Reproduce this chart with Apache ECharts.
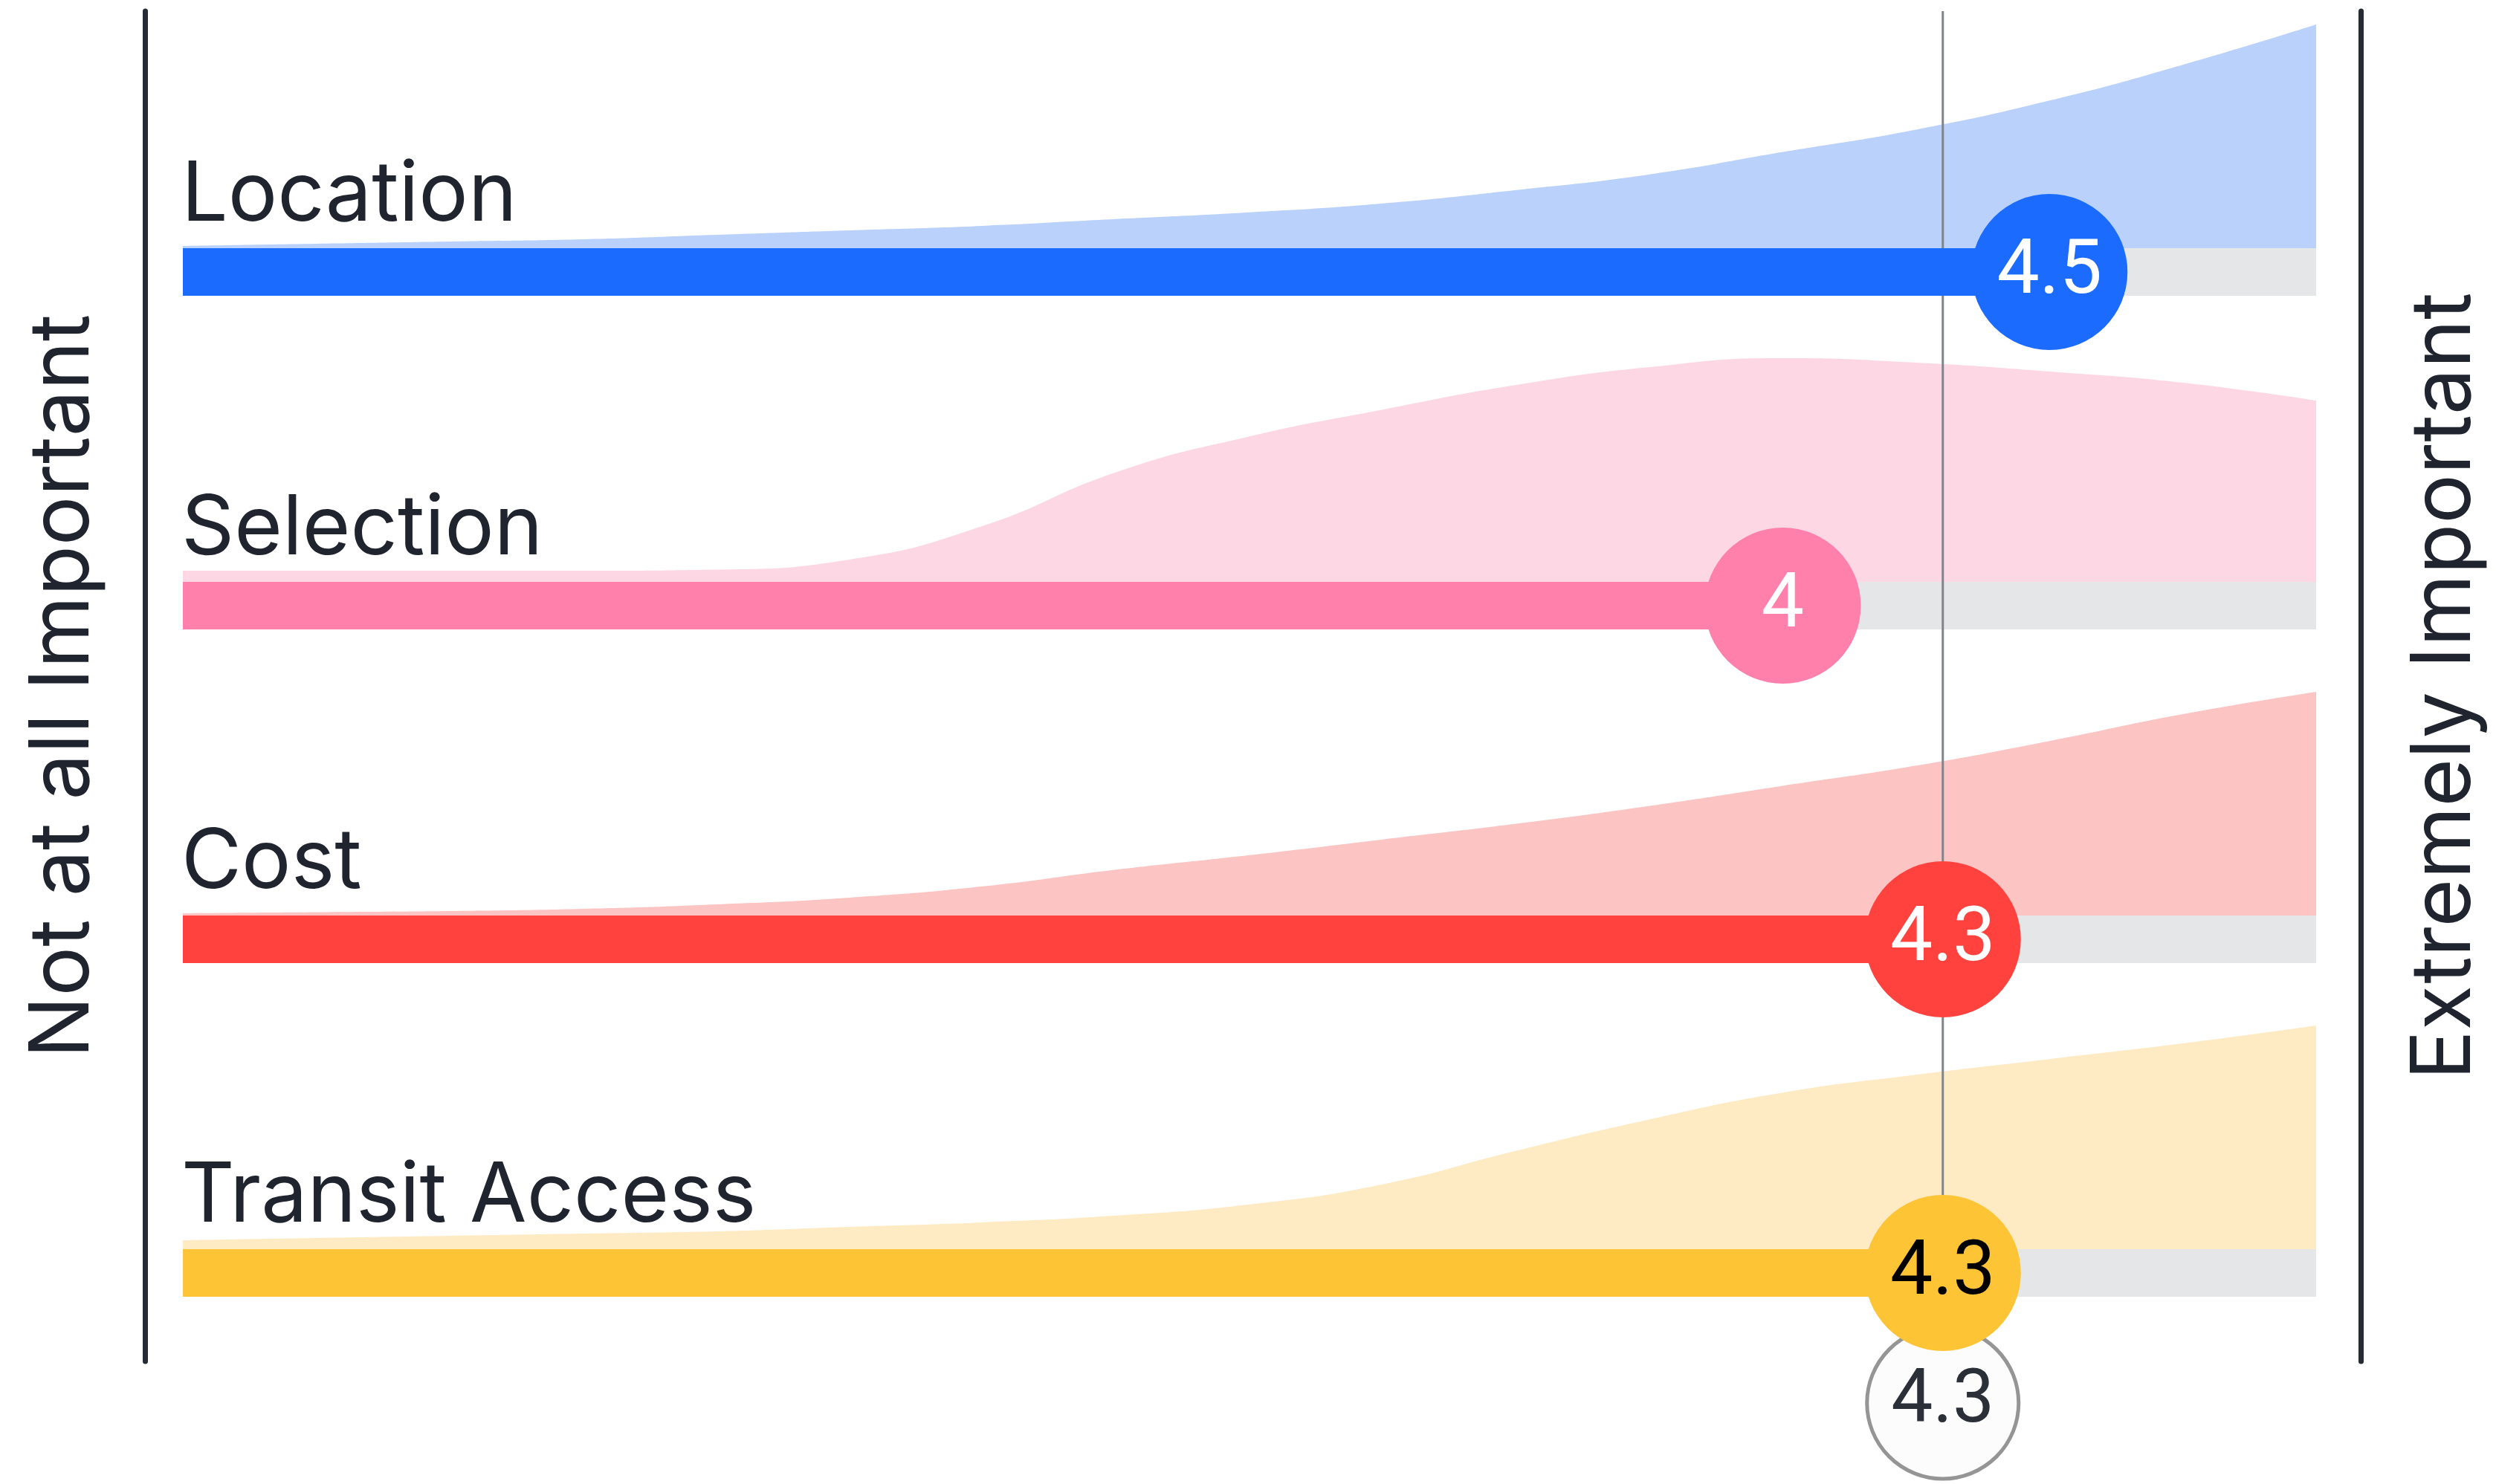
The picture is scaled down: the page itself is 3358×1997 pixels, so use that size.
<!DOCTYPE html>
<html>
<head>
<meta charset="utf-8">
<script src="https://cdn.jsdelivr.net/npm/echarts@6/dist/echarts.min.js"></script>
<style>
html,body{margin:0;padding:0;background:#ffffff;}
#chart{width:3358px;height:1997px;}
</style>
</head>
<body>
<div id="chart"></div>
<script>
// ---------- data ----------
const categories = ['Location', 'Selection', 'Cost', 'Transit Access'];
const scores = [4.5, 4, 4.3, 4.3];
const overallScore = 4.3;
const scaleMin = 1;
const scaleMax = 5;
const leftLabel = 'Not at all Important';
const rightLabel = 'Extremely Important';

// distribution of answers along the 1..5 scale (relative height, 100 = tallest)
const densityX = [1, 1.25, 1.5, 1.75, 2, 2.25, 2.5, 2.75, 3, 3.25, 3.5, 3.75, 4, 4.25, 4.5, 4.75, 5];
const densityLocation = [1, 2, 3, 4, 6, 8, 10, 13, 16, 20, 26, 33, 43, 53, 66, 82, 100];
const densitySelection = [5, 5, 5, 5, 5.5, 10, 25, 49, 65, 77, 88, 96, 100, 98, 94, 89, 81];
const densityCost = [1, 1.5, 2, 3, 5, 8, 13, 20.5, 27, 34, 41, 49, 58, 67, 78, 90, 100];
const densityTransit = [4, 5, 6, 7, 8, 10, 12, 15, 20, 29, 44, 58, 70, 78, 85, 92, 100];
const densities = [densityLocation, densitySelection, densityCost, densityTransit];

// ---------- styles / layout ----------
const barColors = ['#1b6bff', '#ff80aa', '#ff423d', '#fdc435'];
const areaColors = ['#b9d1fb', '#fdd8e4', '#fdc4c4', '#feebc4'];
const scoreTextColors = ['#ffffff', '#ffffff', '#ffffff', '#000000'];
const TRACK = '#e4e6e8';
const INK = '#20242e';
const PLOT_L = 246, PLOT_R = 242;
const ROW0 = 366, ROW_GAP = 449, BAR_H = 64, AREA_H = 301;
const FRAME_TOP = 15, FRAME_BOTTOM = 1832;
const CIRCLE_R = 105;
const LABEL_FONT = '"Inter", "Liberation Sans", sans-serif';
const NUM_FONT = '"Roboto", "Liberation Sans", sans-serif';

const chart = echarts.init(document.getElementById('chart'), null, {renderer: 'canvas'});

const grids = [
  {left: PLOT_L, right: PLOT_R, top: ROW0 - 0.8 * ROW_GAP, height: 4.2 * ROW_GAP}
];
const xAxes = [{type: 'value', gridIndex: 0, min: scaleMin, max: scaleMax, show: false}];
const yAxes = [{type: 'value', gridIndex: 0, min: -0.8, max: 3.4, inverse: true, show: false}];
categories.forEach((c, i) => {
  grids.push({left: PLOT_L, right: PLOT_R, top: ROW0 + i * ROW_GAP - BAR_H / 2 - AREA_H, height: AREA_H});
  xAxes.push({type: 'value', gridIndex: i + 1, min: scaleMin, max: scaleMax, show: false});
  yAxes.push({type: 'value', gridIndex: i + 1, min: 0, max: 100, show: false});
});
// frame grid (the two dark end lines with their captions)
grids.push({left: 195, right: 182, top: FRAME_TOP, bottom: 1997 - FRAME_BOTTOM});
xAxes.push({type: 'value', gridIndex: 5, min: 0, max: 1, show: false});
const frameAxis = (pos, name, gap) => ({
  type: 'value', gridIndex: 5, min: 0, max: 1, position: pos,
  axisLine: {show: true, onZero: false, lineStyle: {color: '#262b35', width: 7}},
  axisTick: {show: false}, axisLabel: {show: false}, splitLine: {show: false},
  name: name, nameLocation: 'middle', nameRotate: 90, nameGap: gap,
  nameTextStyle: {fontSize: 111, fontFamily: LABEL_FONT, color: INK}
});
yAxes.push(frameAxis('left', leftLabel, 54));
yAxes.push(frameAxis('right', rightLabel, 58));

const series = [];
// distribution areas
categories.forEach((c, i) => {
  series.push({
    type: 'line', name: c + ' distribution', xAxisIndex: i + 1, yAxisIndex: i + 1,
    data: densityX.map((x, j) => [x, densities[i][j]]),
    smooth: 0.5, symbol: 'none', silent: true, z: 1,
    lineStyle: {width: 0}, areaStyle: {color: areaColors[i], opacity: 1}
  });
});
const rowData = categories.map((c, i) => [scores[i], i]);
// grey tracks
series.push({
  type: 'custom', xAxisIndex: 0, yAxisIndex: 0, z: 2, silent: true,
  data: rowData,
  renderItem: (params, api) => {
    const row = api.value(1);
    const a = api.coord([scaleMin, row]);
    const b = api.coord([scaleMax, row]);
    return {type: 'rect', shape: {x: a[0], y: a[1] - BAR_H / 2, width: b[0] - a[0], height: BAR_H},
      style: {fill: TRACK}};
  }
});
// overall reference line
series.push({
  type: 'custom', xAxisIndex: 0, yAxisIndex: 0, z: 3, silent: true,
  data: [[overallScore, categories.length - 1]],
  renderItem: (params, api) => {
    const p = api.coord([api.value(0), api.value(1)]);
    return {type: 'line', shape: {x1: p[0], y1: FRAME_TOP, x2: p[0], y2: p[1] + 175},
      style: {stroke: '#80848b', lineWidth: 3}};
  }
});
// coloured bars + category labels
series.push({
  type: 'custom', xAxisIndex: 0, yAxisIndex: 0, z: 4, silent: true,
  data: rowData,
  renderItem: (params, api) => {
    const i = params.dataIndex;
    const row = api.value(1);
    const a = api.coord([scaleMin, row]);
    const b = api.coord([api.value(0), row]);
    return {type: 'group', children: [
      {type: 'rect', shape: {x: a[0], y: a[1] - BAR_H / 2, width: b[0] - a[0], height: BAR_H},
        style: {fill: barColors[i]}},
      {type: 'text', style: {text: categories[i], x: a[0] - 2, y: a[1] - BAR_H / 2 - 70,
        fill: INK, fontSize: 111, fontFamily: LABEL_FONT, align: 'left', verticalAlign: 'middle'}}
    ]};
  }
});
// overall score bubble
series.push({
  type: 'custom', xAxisIndex: 0, yAxisIndex: 0, z: 5, silent: true,
  data: [[overallScore, categories.length - 1]],
  renderItem: (params, api) => {
    const p = api.coord([api.value(0), api.value(1)]);
    const cy = p[1] + 175;
    return {type: 'group', children: [
      {type: 'circle', shape: {cx: p[0], cy: cy, r: CIRCLE_R - 3}, style: {fill: '#fcfcfc', stroke: '#959595', lineWidth: 5}},
      {type: 'text', style: {text: String(overallScore), x: p[0], y: cy, fill: '#2b2f38',
        fontSize: 100, fontFamily: NUM_FONT, align: 'center', verticalAlign: 'middle'}}
    ]};
  }
});
// score bubbles
series.push({
  type: 'custom', xAxisIndex: 0, yAxisIndex: 0, z: 6, silent: true,
  data: rowData,
  renderItem: (params, api) => {
    const i = params.dataIndex;
    const p = api.coord([api.value(0), api.value(1)]);
    return {type: 'group', children: [
      {type: 'circle', shape: {cx: p[0], cy: p[1], r: CIRCLE_R}, style: {fill: barColors[i]}},
      {type: 'text', style: {text: String(scores[i]), x: p[0], y: p[1] + 2, fill: scoreTextColors[i],
        fontSize: 102, fontFamily: NUM_FONT, align: 'center', verticalAlign: 'middle'}}
    ]};
  }
});

chart.setOption({
  animation: false,
  backgroundColor: '#ffffff',
  grid: grids,
  xAxis: xAxes,
  yAxis: yAxes,
  series: series
});
</script>
</body>
</html>
